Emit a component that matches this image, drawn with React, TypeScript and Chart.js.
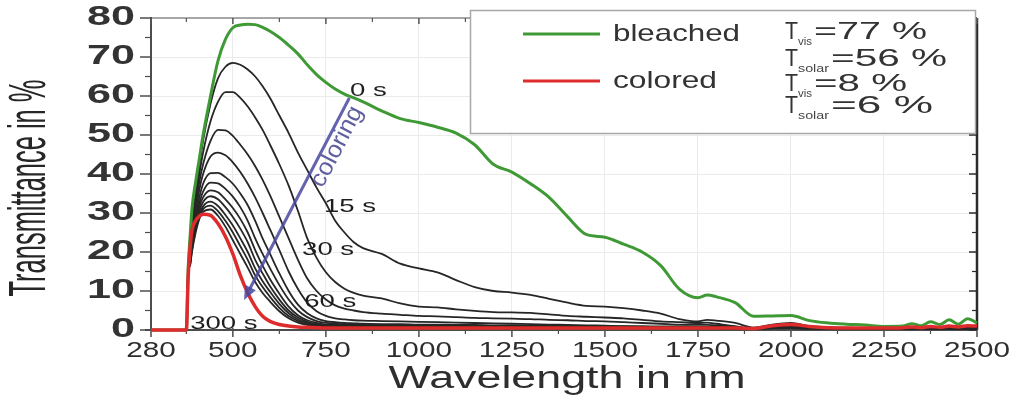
import React, { useEffect, useRef } from 'react';
import { Chart, registerables } from 'chart.js';

Chart.register(...registerables);

// ---------------- data ----------------
const WAVELENGTH_NM = [280, 375, 380, 385, 390, 400, 410, 420, 440, 460, 480, 500, 520, 540, 560, 580, 600, 625, 650, 675, 700, 725, 750, 775, 800, 825, 850, 900, 950, 1000, 1050, 1100, 1150, 1200, 1250, 1300, 1350, 1400, 1450, 1500, 1550, 1600, 1650, 1700, 1750, 1775, 1800, 1850, 1900, 1950, 2000, 2050, 2100, 2150, 2200, 2250, 2300, 2325, 2350, 2375, 2400, 2425, 2450, 2475, 2500];

const BLEACHED = [0, 0, 16, 24, 31, 38, 44, 50, 60, 69, 74.5,
  77.5, 78.2, 78.4, 78.3, 77.6,
  76.6, 75, 73, 70.8, 68,
  65.5, 63.5, 61.8, 60.5, 59.5,
  58.5, 56.2, 54.2, 53.2, 52,
  50.5, 47.5, 42.5, 40.5, 37.5,
  34, 29, 24.5, 23.8, 22,
  20, 16.5, 10.5, 8.3, 9,
  8.5, 7, 3.5, 3.6, 3.7,
  2.4, 1.8, 1.5, 1.3, 0.9,
  1, 1.6, 1.1, 2.1, 1.4,
  2.6, 1.5, 2.9, 1.8];

const COLORED = [0, 0, 14, 21, 25.5, 28, 29.2, 29.7, 29.4, 27.3, 24,
  19.5, 14, 9.5, 6, 3.5,
  2.2, 1.4, 1, 0.8, 0.7,
  0.6, 0.5, 0.5, 0.5, 0.5,
  0.5, 0.5, 0.5, 0.5, 0.5,
  0.5, 0.5, 0.5, 0.5, 0.5,
  0.5, 0.5, 0.5, 0.5, 0.5,
  0.5, 0.5, 0.5, 0.5, 0.5,
  0.5, 0.5, 0.4, 1.1, 1.4,
  0.9, 0.6, 0.5, 0.5, 0.5,
  0.6, 0.8, 0.6, 0.9, 0.7,
  1, 0.8, 1.1, 1];

const STEP_1 = [0, 0, 15, 21, 27, 35, 42, 48.5, 58, 64.5, 67.5,
  68.5, 68, 66.8, 65, 62.5,
  59.5, 55, 50.5, 45.5, 41,
  36.5, 32.5, 28, 25, 22.5,
  21, 19.5, 17, 15.8, 14.8,
  12.8, 11, 10, 9.6, 9,
  8, 7, 6.2, 6, 5.6,
  5, 4.2, 2.8, 2.2, 2.6,
  2.4, 1.8, 0.6, 1.4, 1.8,
  1, 0.7, 0.6, 0.5, 0.5,
  0.5, 0.5, 0.5, 0.5, 0.5,
  0.5, 0.5, 0.5, 0.5];

const STEP_2 = [0, 0, 15, 20.5, 26, 33.5, 40, 45.5, 53.5, 58.5, 61,
  61, 59.5, 57.3, 54.5, 51.3,
  47.5, 42.5, 37, 30.5, 23.5,
  18.5, 14.8, 12.3, 10.6, 9.5,
  8.8, 8.1, 6.8, 6, 5.8,
  5.3, 4.9, 4.6, 4.5, 4.4,
  4, 3.6, 3.4, 3.2, 3,
  2.6, 2.2, 2, 1.8, 1.9,
  1.6, 1, 0.3, 1.1, 1.3,
  0.7, 0.5, 0.4, 0.4, 0.4,
  0.4, 0.4, 0.4, 0.4, 0.4,
  0.4, 0.4, 0.4, 0.4];

const STEP_3 = [0, 0, 15, 20, 25, 32, 38, 42.5, 48.5, 51.3, 51.2,
  49.8, 47.5, 45, 42, 38.5,
  34.5, 29, 23.5, 18, 13.2,
  10, 7.8, 6.3, 5.5, 5,
  4.6, 4.2, 3.9, 3.6, 3.5,
  3.3, 3.1, 3, 2.9, 2.8,
  2.6, 2.5, 2.3, 2.2, 2,
  1.8, 1.6, 1.4, 1.3, 1.3,
  1.2, 0.8, 0.3, 1, 1,
  0.6, 0.5, 0.4, 0.4, 0.4,
  0.4, 0.4, 0.4, 0.4, 0.4,
  0.4, 0.4, 0.4, 0.4];

const STEP_4 = [0, 0, 15, 19.5, 24, 30.5, 36, 40, 44.5, 45.5, 44.8,
  43, 40.5, 37.5, 34, 30,
  25.8, 20.5, 15, 10.5, 7,
  4.8, 3.6, 3, 2.7, 2.5,
  2.4, 2.3, 2.2, 2.1, 2,
  1.9, 1.8, 1.7, 1.6, 1.5,
  1.4, 1.3, 1.2, 1.1, 1,
  1, 0.9, 0.9, 0.8, 0.8,
  0.8, 0.6, 0.3, 0.8, 0.9,
  0.5, 0.4, 0.4, 0.4, 0.4,
  0.4, 0.4, 0.4, 0.4, 0.4,
  0.4, 0.4, 0.4, 0.4];

const STEP_5 = [0, 0, 15, 19, 23, 29, 34, 37.5, 40.2, 40.3, 39.2,
  37.5, 35, 32, 28, 23.5,
  19.5, 14.5, 10, 6.5, 4.3,
  3, 2.3, 2, 1.8, 1.7,
  1.6, 1.5, 1.5, 1.4, 1.4,
  1.3, 1.3, 1.2, 1.2, 1.1,
  1.1, 1, 1, 0.9, 0.9,
  0.8, 0.8, 0.8, 0.7, 0.7,
  0.7, 0.5, 0.3, 0.7, 0.8,
  0.5, 0.4, 0.4, 0.4, 0.4,
  0.4, 0.4, 0.4, 0.4, 0.4,
  0.4, 0.4, 0.4, 0.4];

const STEP_6 = [0, 0, 15, 18.5, 22.5, 28, 32.5, 35.5, 37.8, 37.6, 36.2,
  34.2, 31.5, 28, 23.5, 19.5,
  15.8, 11.5, 7.8, 5, 3.3,
  2.3, 1.8, 1.6, 1.5, 1.4,
  1.3, 1.3, 1.2, 1.2, 1.1,
  1.1, 1, 1, 1, 0.9,
  0.9, 0.9, 0.8, 0.8, 0.8,
  0.7, 0.7, 0.7, 0.6, 0.6,
  0.6, 0.5, 0.3, 0.6, 0.7,
  0.4, 0.4, 0.4, 0.4, 0.4,
  0.4, 0.4, 0.4, 0.4, 0.4,
  0.4, 0.4, 0.4, 0.4];

const STEP_7 = [0, 0, 15, 18, 22, 27, 31.5, 34, 35.8, 35.3, 33.5,
  31.3, 28.5, 25, 20.5, 16.5,
  13, 9.3, 6, 3.8, 2.5,
  1.8, 1.4, 1.3, 1.2, 1.2,
  1.1, 1.1, 1, 1, 1,
  0.9, 0.9, 0.9, 0.9, 0.8,
  0.8, 0.8, 0.7, 0.7, 0.7,
  0.7, 0.6, 0.6, 0.6, 0.6,
  0.6, 0.5, 0.3, 0.6, 0.6,
  0.4, 0.4, 0.4, 0.4, 0.4,
  0.4, 0.4, 0.4, 0.4, 0.4,
  0.4, 0.4, 0.4, 0.4];

const STEP_8 = [0, 0, 15, 17.5, 21.5, 26.5, 30.5, 32.8, 34.3, 33.5, 31.5,
  29, 26, 22.5, 18, 14.5,
  11.2, 7.8, 5, 3.2, 2.1,
  1.5, 1.2, 1.1, 1, 1,
  1, 0.9, 0.9, 0.9, 0.9,
  0.8, 0.8, 0.8, 0.8, 0.8,
  0.7, 0.7, 0.7, 0.7, 0.6,
  0.6, 0.6, 0.6, 0.5, 0.5,
  0.5, 0.5, 0.3, 0.5, 0.6,
  0.4, 0.4, 0.4, 0.4, 0.4,
  0.4, 0.4, 0.4, 0.4, 0.4,
  0.4, 0.4, 0.4, 0.4];

const STEP_9 = [0, 0, 15, 17, 21, 26, 29.5, 31.7, 32.9, 31.8, 29.5,
  26.8, 23.5, 20, 15.8, 12.5,
  9.8, 6.7, 4.3, 2.7, 1.8,
  1.3, 1, 0.9, 0.9, 0.9,
  0.8, 0.8, 0.8, 0.8, 0.8,
  0.7, 0.7, 0.7, 0.7, 0.7,
  0.7, 0.6, 0.6, 0.6, 0.6,
  0.6, 0.5, 0.5, 0.5, 0.5,
  0.5, 0.4, 0.3, 0.5, 0.5,
  0.4, 0.4, 0.4, 0.4, 0.4,
  0.4, 0.4, 0.4, 0.4, 0.4,
  0.4, 0.4, 0.4, 0.4];

const STEP_10 = [0, 0, 15, 16.8, 20.5, 25.5, 29, 31, 31.9, 30.5, 28,
  25, 21.5, 18, 14, 11,
  8.5, 5.7, 3.6, 2.3, 1.5,
  1.1, 0.9, 0.8, 0.8, 0.8,
  0.7, 0.7, 0.7, 0.7, 0.7,
  0.7, 0.6, 0.6, 0.6, 0.6,
  0.6, 0.6, 0.6, 0.5, 0.5,
  0.5, 0.5, 0.5, 0.5, 0.5,
  0.5, 0.4, 0.3, 0.5, 0.5,
  0.4, 0.4, 0.4, 0.4, 0.4,
  0.4, 0.4, 0.4, 0.4, 0.4,
  0.4, 0.4, 0.4, 0.4];

const STEP_11 = [0, 0, 15, 16.5, 20, 25, 28.5, 30.3, 30.9, 29.3, 26.5,
  23, 19.5, 16, 12.3, 9.5,
  7.3, 4.8, 3, 1.9, 1.3,
  1, 0.8, 0.7, 0.7, 0.7,
  0.6, 0.6, 0.6, 0.6, 0.6,
  0.6, 0.6, 0.6, 0.6, 0.5,
  0.5, 0.5, 0.5, 0.5, 0.5,
  0.5, 0.5, 0.5, 0.4, 0.4,
  0.4, 0.4, 0.3, 0.4, 0.5,
  0.4, 0.4, 0.4, 0.4, 0.4,
  0.4, 0.4, 0.4, 0.4, 0.4,
  0.4, 0.4, 0.4, 0.4];

const INTERMEDIATE_STEPS = [STEP_1, STEP_2, STEP_3, STEP_4, STEP_5, STEP_6, STEP_7, STEP_8, STEP_9, STEP_10, STEP_11];

const X_TICKS = [280, 500, 750, 1000, 1250, 1500, 1750, 2000, 2250, 2500];
const X_MINOR_TICKS = [375, 625, 875, 1125, 1375, 1625, 1875, 2125, 2375];
const Y_TICKS = [0, 10, 20, 30, 40, 50, 60, 70, 80];
const Y_MINOR_TICKS = [5, 15, 25, 35, 45, 55, 65, 75];

const TIME_LABELS = ['0 s', '15 s', '30 s', '60 s', '300 s'];
const TIME_LABEL_NM = [864, 815, 756, 762, 476];
const TIME_LABEL_T = [61.3, 31.5, 20.5, 7.2, 1.5];

const ARROW_FROM = [813, 59.5];
const ARROW_TO = [530, 7.7];
const ARROW_TEXT = 'coloring';
const ARROW_TEXT_AT = [780, 47];

const LEGEND_LABELS = ['bleached', 'colored'];
const LEGEND_TVIS = ['=77 %', '=8 %'];
const LEGEND_TSOLAR = ['=56 %', '=6 %'];

const X_TITLE = 'Wavelength in nm';
const Y_TITLE = 'Transmittance in %';

// ---------------- styles ----------------
const GREEN = '#3f9a36';
const RED = '#de2b2b';
const BLACK = '#262626';
const FONT = '"Liberation Sans", Arial, sans-serif';

function line(ctx: any, x1: number, y1: number, x2: number, y2: number, color: string, w: number) {
  ctx.strokeStyle = color;
  ctx.lineWidth = w;
  ctx.beginPath();
  ctx.moveTo(x1, y1);
  ctx.lineTo(x2, y2);
  ctx.stroke();
}

function stretchText(ctx: any, text: string, x: number, y: number, px: number, sx: number, align: string, color: string, weight = 'normal') {
  ctx.save();
  ctx.font = `${weight} ${px}px ${FONT}`;
  ctx.fillStyle = color;
  ctx.textAlign = align;
  ctx.textBaseline = 'middle';
  ctx.translate(x, y);
  ctx.scale(sx, 1);
  ctx.fillText(text, 0, 0);
  ctx.restore();
}

function fitText(ctx: any, text: string, left: number, cy: number, px: number, width: number, color: string) {
  ctx.save();
  ctx.font = `normal ${px}px ${FONT}`;
  const w = ctx.measureText(text).width;
  ctx.restore();
  stretchText(ctx, text, left, cy, px, width / w, 'left', color);
}

const decorPlugin = {
  id: 'decor',
  beforeDatasetsDraw(chart: any) {
    const { ctx, chartArea: a, scales } = chart;
    const xs = scales.x;
    const ys = scales.y;
    ctx.save();
    line(ctx, a.left, a.top, a.right, a.top, '#8c8c8c', 1.5);
    line(ctx, a.right, a.top, a.right, a.bottom, '#2b2b2b', 2.5);
    line(ctx, a.left, a.top - 1, a.left, a.bottom, '#4d4d4d', 2);
    line(ctx, a.left - 6, a.bottom, a.right, a.bottom, '#4d4d4d', 2);
    for (const v of Y_TICKS) {
      const y = ys.getPixelForValue(v);
      line(ctx, a.left - 11, y, a.left, y, '#4d4d4d', 1.5);
      line(ctx, a.right - 8, y, a.right, y, '#2b2b2b', 1.5);
    }
    for (const v of Y_MINOR_TICKS) {
      const y = ys.getPixelForValue(v);
      line(ctx, a.left - 6, y, a.left, y, '#4d4d4d', 1.2);
      line(ctx, a.right - 5, y, a.right, y, '#2b2b2b', 1.2);
    }
    for (const v of X_TICKS) {
      const x = xs.getPixelForValue(v);
      line(ctx, x, a.bottom - 2, x, a.bottom + 7, '#4d4d4d', 1.5);
      line(ctx, x, a.top, x, a.top + 6, '#555', 1.5);
    }
    for (const v of X_MINOR_TICKS) {
      const x = xs.getPixelForValue(v);
      line(ctx, x, a.bottom, x, a.bottom + 4, '#4d4d4d', 1.2);
      line(ctx, x, a.top, x, a.top + 4, '#555', 1.2);
    }
    ctx.restore();
  },
  afterDatasetsDraw(chart: any) {
    const { ctx, scales } = chart;
    const xs = scales.x;
    const ys = scales.y;
    ctx.save();
    // arrow
    const x0 = xs.getPixelForValue(ARROW_FROM[0]);
    const y0 = ys.getPixelForValue(ARROW_FROM[1]);
    const x1 = xs.getPixelForValue(ARROW_TO[0]);
    const y1 = ys.getPixelForValue(ARROW_TO[1]);
    const ang = Math.atan2(y1 - y0, x1 - x0);
    const head = 14;
    const c = Math.cos(ang);
    const s = Math.sin(ang);
    ctx.strokeStyle = 'rgba(72,72,160,0.85)';
    ctx.fillStyle = 'rgba(72,72,160,0.85)';
    ctx.lineWidth = 3;
    ctx.beginPath();
    ctx.moveTo(x0, y0);
    ctx.lineTo(x1 - c * head * 0.8, y1 - s * head * 0.8);
    ctx.stroke();
    ctx.beginPath();
    ctx.moveTo(x1, y1);
    ctx.lineTo(x1 - c * head - s * 6, y1 - s * head + c * 6);
    ctx.lineTo(x1 - c * head + s * 6, y1 - s * head - c * 6);
    ctx.closePath();
    ctx.fill();
    // arrow text
    const tx = xs.getPixelForValue(ARROW_TEXT_AT[0]);
    const ty = ys.getPixelForValue(ARROW_TEXT_AT[1]);
    const tang = Math.atan2(y0 - y1, x0 - x1);
    ctx.save();
    ctx.translate(tx, ty);
    ctx.rotate(tang);
    ctx.font = `normal 21px ${FONT}`;
    const tw = ctx.measureText(ARROW_TEXT).width;
    ctx.scale(88 / tw, 1.15);
    ctx.fillStyle = '#5f5fa0';
    ctx.textAlign = 'center';
    ctx.textBaseline = 'middle';
    ctx.fillText(ARROW_TEXT, 0, 0);
    ctx.restore();
    // time labels
    TIME_LABELS.forEach((t, i) => {
      const px = xs.getPixelForValue(TIME_LABEL_NM[i]);
      const py = ys.getPixelForValue(TIME_LABEL_T[i]);
      stretchText(ctx, t, px, py, 19, 1.45, 'center', '#1e1e1e');
    });
    ctx.restore();
  },
  afterDraw(chart: any) {
    const { ctx, chartArea: a, scales } = chart;
    const xs = scales.x;
    const ys = scales.y;
    ctx.save();
    // tick labels
    for (const v of Y_TICKS) {
      stretchText(ctx, String(v), a.left - 16, ys.getPixelForValue(v), 27, 1.6, 'right', '#333333', 'bold');
    }
    for (const v of X_TICKS) {
      stretchText(ctx, String(v), xs.getPixelForValue(v), a.bottom + 21, 22, 1.35, 'center', '#2e2e2e');
    }
    // x title
    ctx.font = `normal 31px ${FONT}`;
    const xw = ctx.measureText(X_TITLE).width;
    stretchText(ctx, X_TITLE, 567, 379, 31, 357 / xw, 'center', '#2e2e2e');
    // y title
    ctx.save();
    ctx.font = `normal 30px ${FONT}`;
    const yw = ctx.measureText(Y_TITLE).width;
    ctx.translate(31, 188);
    ctx.rotate(-Math.PI / 2);
    ctx.scale(217 / yw, 1.7);
    ctx.fillStyle = '#262626';
    ctx.textAlign = 'center';
    ctx.textBaseline = 'middle';
    ctx.fillText(Y_TITLE, 0, 0);
    ctx.restore();

    // legend box
    ctx.fillStyle = '#ffffff';
    ctx.fillRect(470, 10, 505, 123);
    ctx.strokeStyle = '#a8a8a8';
    ctx.lineWidth = 1.5;
    ctx.strokeRect(470.5, 10.5, 505, 123);
    const colors = [GREEN, RED];
    const lineY = [34, 81];
    const visY = [33, 85];
    const solarY = [60, 107];
    LEGEND_LABELS.forEach((lab, i) => {
      line(ctx, 523, lineY[i], 600, lineY[i], colors[i], 3);
      fitText(ctx, lab, 613, lineY[i], 24, i === 0 ? 127 : 104, '#333');
      // T_vis
      fitText(ctx, 'T', 785, visY[i], 23, 13, '#333');
      fitText(ctx, 'vis', 798, visY[i] + 9, 10, 14, '#444');
      fitText(ctx, LEGEND_TVIS[i], 814, visY[i], 23, i === 0 ? 113 : 93, '#333');
      // T_solar
      fitText(ctx, 'T', 785, solarY[i], 23, 13, '#333');
      fitText(ctx, 'solar', 798, solarY[i] + 9, 10, 31, '#444');
      fitText(ctx, LEGEND_TSOLAR[i], 831, solarY[i], 23, i === 0 ? 116 : 102, '#333');
    });
    ctx.restore();
  },
};

export default function App() {
  const canvasRef = useRef<HTMLCanvasElement | null>(null);

  useEffect(() => {
    document.body.style.margin = '0';
    const canvas = canvasRef.current;
    if (!canvas) return;

    const toPoints = (vals: number[]) => WAVELENGTH_NM.map((w, i) => ({ x: w, y: vals[i] }));

    const datasets: any[] = [
      { label: 'colored', data: toPoints(COLORED), borderColor: RED, borderWidth: 3.5 },
      { label: 'bleached', data: toPoints(BLEACHED), borderColor: GREEN, borderWidth: 3 },
      ...INTERMEDIATE_STEPS.map((vals, i) => ({
        label: `step ${i + 1}`,
        data: toPoints(vals),
        borderColor: BLACK,
        borderWidth: 1.8,
      })),
    ].map((d) => ({
      ...d,
      pointRadius: 0,
      fill: false,
      cubicInterpolationMode: 'monotone',
      clip: false,
    }));

    const chart = new Chart(canvas, {
      type: 'line',
      data: { datasets },
      options: {
        animation: false,
        responsive: false,
        maintainAspectRatio: false,
        devicePixelRatio: 1,
        layout: { padding: { top: 18, right: 44, left: 0, bottom: 0 } },
        plugins: { legend: { display: false }, tooltip: { enabled: false } },
        scales: {
          x: {
            type: 'linear',
            min: 280,
            max: 2500,
            afterBuildTicks: (s: any) => {
              s.ticks = X_TICKS.map((v) => ({ value: v }));
            },
            afterFit: (s: any) => {
              s.height = 77;
            },
            ticks: { display: false },
            grid: { color: '#ebebeb', lineWidth: 1, drawTicks: false },
            border: { display: false },
          },
          y: {
            type: 'linear',
            min: 0,
            max: 80,
            afterBuildTicks: (s: any) => {
              s.ticks = Y_TICKS.map((v) => ({ value: v }));
            },
            afterFit: (s: any) => {
              s.width = 151;
            },
            ticks: { display: false },
            grid: { color: '#ebebeb', lineWidth: 1, drawTicks: false },
            border: { display: false },
          },
        },
      },
      plugins: [decorPlugin],
    } as any);

    return () => chart.destroy();
  }, []);

  return (
    <div style={{ width: 1021, height: 407, background: '#fff' }}>
      <canvas ref={canvasRef} width={1021} height={407} style={{ display: 'block' }} />
    </div>
  );
}
